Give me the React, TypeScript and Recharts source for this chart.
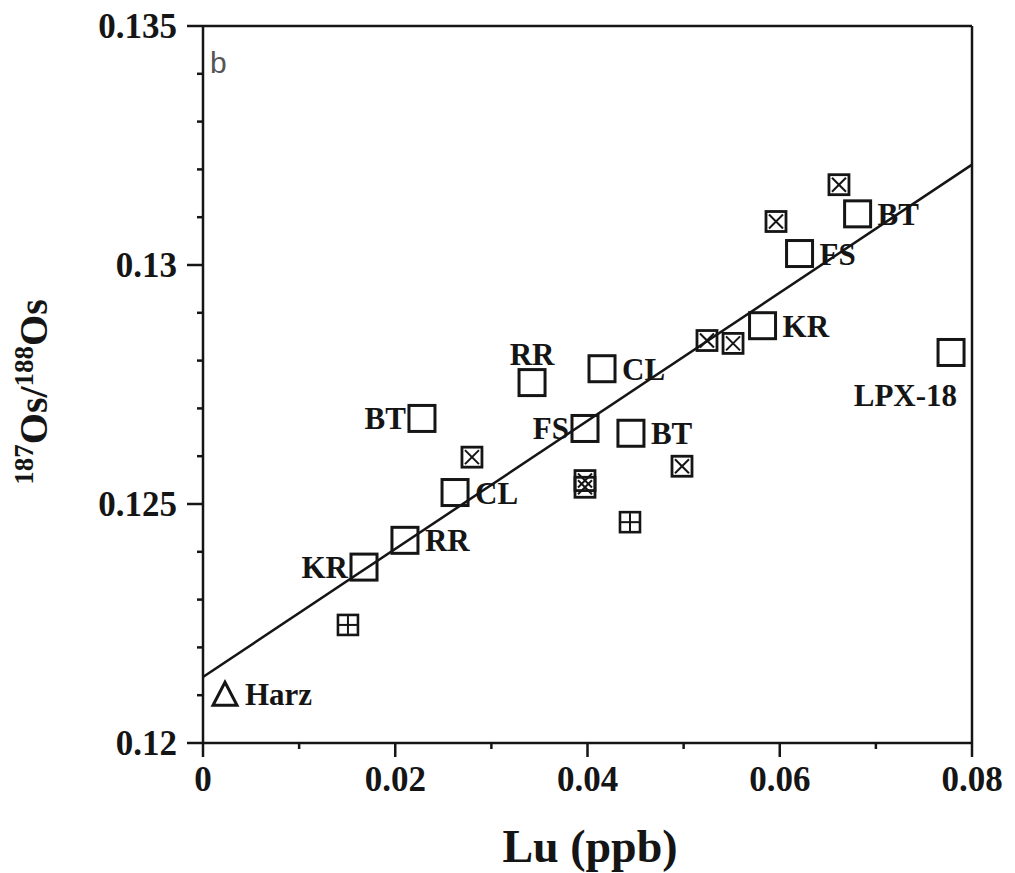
import { ScatterChart, Scatter, XAxis, YAxis, ReferenceLine } from "recharts";

const INK = "#151515";
const SERIF = "'Liberation Serif', 'Times New Roman', serif";

// open squares, labelled by locality
const openLabels = ["KR", "RR", "CL", "BT", "RR", "CL", "FS", "BT", "KR", "FS", "BT", "LPX-18"];
const openX = [0.01675, 0.02101, 0.02622, 0.02278, 0.03423, 0.04151, 0.03974, 0.04452, 0.05821, 0.06206, 0.0681, 0.07782];
const openY = [0.12368, 0.12424, 0.12524, 0.12679, 0.12754, 0.12783, 0.12658, 0.12648, 0.12873, 0.13024, 0.13107, 0.12817];
const openSides = ["left", "right", "right", "left", "above", "right", "left", "right", "right", "right", "right", "below"];

// crossed squares
const crossX = [0.02798, 0.03974, 0.03974, 0.04983, 0.05243, 0.05514, 0.05961, 0.06616];
const crossY = [0.12598, 0.12549, 0.12535, 0.12579, 0.12842, 0.12836, 0.13091, 0.13168];

// squares with a plus
const plusX = [0.01508, 0.04442];
const plusY = [0.12247, 0.12462];

// Harz
const harzX = [0.00229];
const harzY = [0.12102];

// regression line ends
const fitX = [0, 0.08];
const fitY = [0.12138, 0.1321];

const xTicks = [0, 0.01, 0.02, 0.03, 0.04, 0.05, 0.06, 0.07, 0.08];
const xTickLabels = ["0", "", "0.02", "", "0.04", "", "0.06", "", "0.08"];
const yTicks = [0.12, 0.121, 0.122, 0.123, 0.124, 0.125, 0.126, 0.127, 0.128, 0.129, 0.13, 0.131, 0.132, 0.133, 0.134, 0.135];
const yTickLabels = ["0.12", "", "", "", "", "0.125", "", "", "", "", "0.13", "", "", "", "", "0.135"];

const openData = openX.map((x, i) => ({ x, y: openY[i], label: openLabels[i], side: openSides[i] }));
const crossData = crossX.map((x, i) => ({ x, y: crossY[i] }));
const plusData = plusX.map((x, i) => ({ x, y: plusY[i] }));
const harzData = harzX.map((x, i) => ({ x, y: harzY[i], label: "Harz" }));

const labelStyle = { fontFamily: SERIF, fontWeight: 700, fontSize: 31, fill: INK };

function OpenSquare(props: any) {
  const { cx, cy, payload } = props;
  let tx = cx + 20;
  let ty = cy + 11;
  let anchor: "start" | "end" | "middle" = "start";
  if (payload.side === "left") {
    tx = cx - 16;
    anchor = "end";
  } else if (payload.side === "above") {
    tx = cx;
    ty = cy - 18;
    anchor = "middle";
  } else if (payload.side === "below") {
    tx = cx + 6;
    ty = cy + 54;
    anchor = "end";
  }
  return (
    <g>
      <rect x={cx - 13} y={cy - 13} width={26} height={26} fill="none" stroke={INK} strokeWidth={3} />
      <text x={tx} y={ty} textAnchor={anchor} {...labelStyle}>
        {payload.label}
      </text>
    </g>
  );
}

function CrossSquare(props: any) {
  const { cx, cy } = props;
  return (
    <g stroke={INK} fill="none">
      <rect x={cx - 10} y={cy - 10} width={20} height={20} strokeWidth={2.8} />
      <line x1={cx - 7} y1={cy - 7} x2={cx + 7} y2={cy + 7} strokeWidth={2} />
      <line x1={cx - 7} y1={cy + 7} x2={cx + 7} y2={cy - 7} strokeWidth={2} />
    </g>
  );
}

function PlusSquare(props: any) {
  const { cx, cy } = props;
  return (
    <g stroke={INK} fill="none">
      <rect x={cx - 10} y={cy - 10} width={20} height={20} strokeWidth={2.6} />
      <line x1={cx} y1={cy - 9} x2={cx} y2={cy + 9} strokeWidth={2} />
      <line x1={cx - 9} y1={cy} x2={cx + 9} y2={cy} strokeWidth={2} />
    </g>
  );
}

function Triangle(props: any) {
  const { cx, cy, payload } = props;
  return (
    <g>
      <polygon
        points={`${cx},${cy - 12} ${cx - 12},${cy + 11} ${cx + 12},${cy + 11}`}
        fill="none"
        stroke={INK}
        strokeWidth={3}
      />
      <text x={cx + 20} y={cy + 11} {...labelStyle}>
        {payload.label}
      </text>
    </g>
  );
}

function YTick(props: any) {
  const { x, y, index } = props;
  const text = yTickLabels[index];
  const major = text !== "";
  return (
    <g>
      <line x1={x - (major ? 16 : 6)} y1={y} x2={x} y2={y} stroke={INK} strokeWidth={2.5} />
      {major && (
        <text x={x - 26} y={y + 12} textAnchor="end" fontFamily={SERIF} fontWeight={700} fontSize={35} fill={INK}>
          {text}
        </text>
      )}
    </g>
  );
}

function XTick(props: any) {
  const { x, y, index } = props;
  const text = xTickLabels[index];
  const major = text !== "";
  return (
    <g>
      <line x1={x} y1={y} x2={x} y2={y + (major ? 14 : 6)} stroke={INK} strokeWidth={2.5} />
      {major && (
        <text x={x} y={y + 48} textAnchor="middle" fontFamily={SERIF} fontWeight={700} fontSize={35} fill={INK}>
          {text}
        </text>
      )}
    </g>
  );
}

function YTitle() {
  return (
    <g>
      <text
        transform="rotate(-90)"
        x={-392}
        y={47}
        textAnchor="middle"
        fontFamily={SERIF}
        fontWeight={700}
        fill={INK}
        fontSize={40}
      >
        <tspan fontSize={27} dy={-14}>187</tspan>
        <tspan dy={14}>Os/</tspan>
        <tspan fontSize={27} dy={-14}>188</tspan>
        <tspan dy={14}>Os</tspan>
      </text>
      <text x={210} y={73} fontFamily="'Liberation Sans', Arial, sans-serif" fontSize={30} fill="#555">
        b
      </text>
    </g>
  );
}

function XTitle() {
  return (
    <text x={590} y={862} textAnchor="middle" fontFamily={SERIF} fontWeight={700} fontSize={46} fill={INK}>
      Lu (ppb)
    </text>
  );
}

export default function App() {
  return (
    <div style={{ position: "absolute", left: 0, top: 0, background: "#fff" }}>
      <ScatterChart width={1015} height={873} margin={{ top: 26, right: 43, bottom: 0, left: 0 }}>
        <XAxis
          type="number"
          dataKey="x"
          domain={[0, 0.08]}
          ticks={xTicks}
          interval={0}
          tickSize={0}
          tickMargin={0}
          tickLine={false}
          tick={<XTick />}
          height={130}
          axisLine={{ stroke: INK, strokeWidth: 2.5 }}
          label={XTitle}
        />
        <YAxis
          type="number"
          dataKey="y"
          domain={[0.12, 0.135]}
          ticks={yTicks}
          interval={0}
          tickSize={0}
          tickMargin={0}
          tickLine={false}
          tick={<YTick />}
          width={203}
          axisLine={{ stroke: INK, strokeWidth: 2.5 }}
          label={YTitle}
        />
        <ReferenceLine y={0.135} stroke={INK} strokeWidth={2.5} />
        <ReferenceLine x={0.08} stroke={INK} strokeWidth={2.5} />
        <ReferenceLine
          segment={[
            { x: fitX[0], y: fitY[0] },
            { x: fitX[1], y: fitY[1] },
          ]}
          stroke={INK}
          strokeWidth={2.5}
        />
        <Scatter data={openData} shape={OpenSquare} isAnimationActive={false} />
        <Scatter data={crossData} shape={CrossSquare} isAnimationActive={false} />
        <Scatter data={plusData} shape={PlusSquare} isAnimationActive={false} />
        <Scatter data={harzData} shape={Triangle} isAnimationActive={false} />
      </ScatterChart>
    </div>
  );
}
